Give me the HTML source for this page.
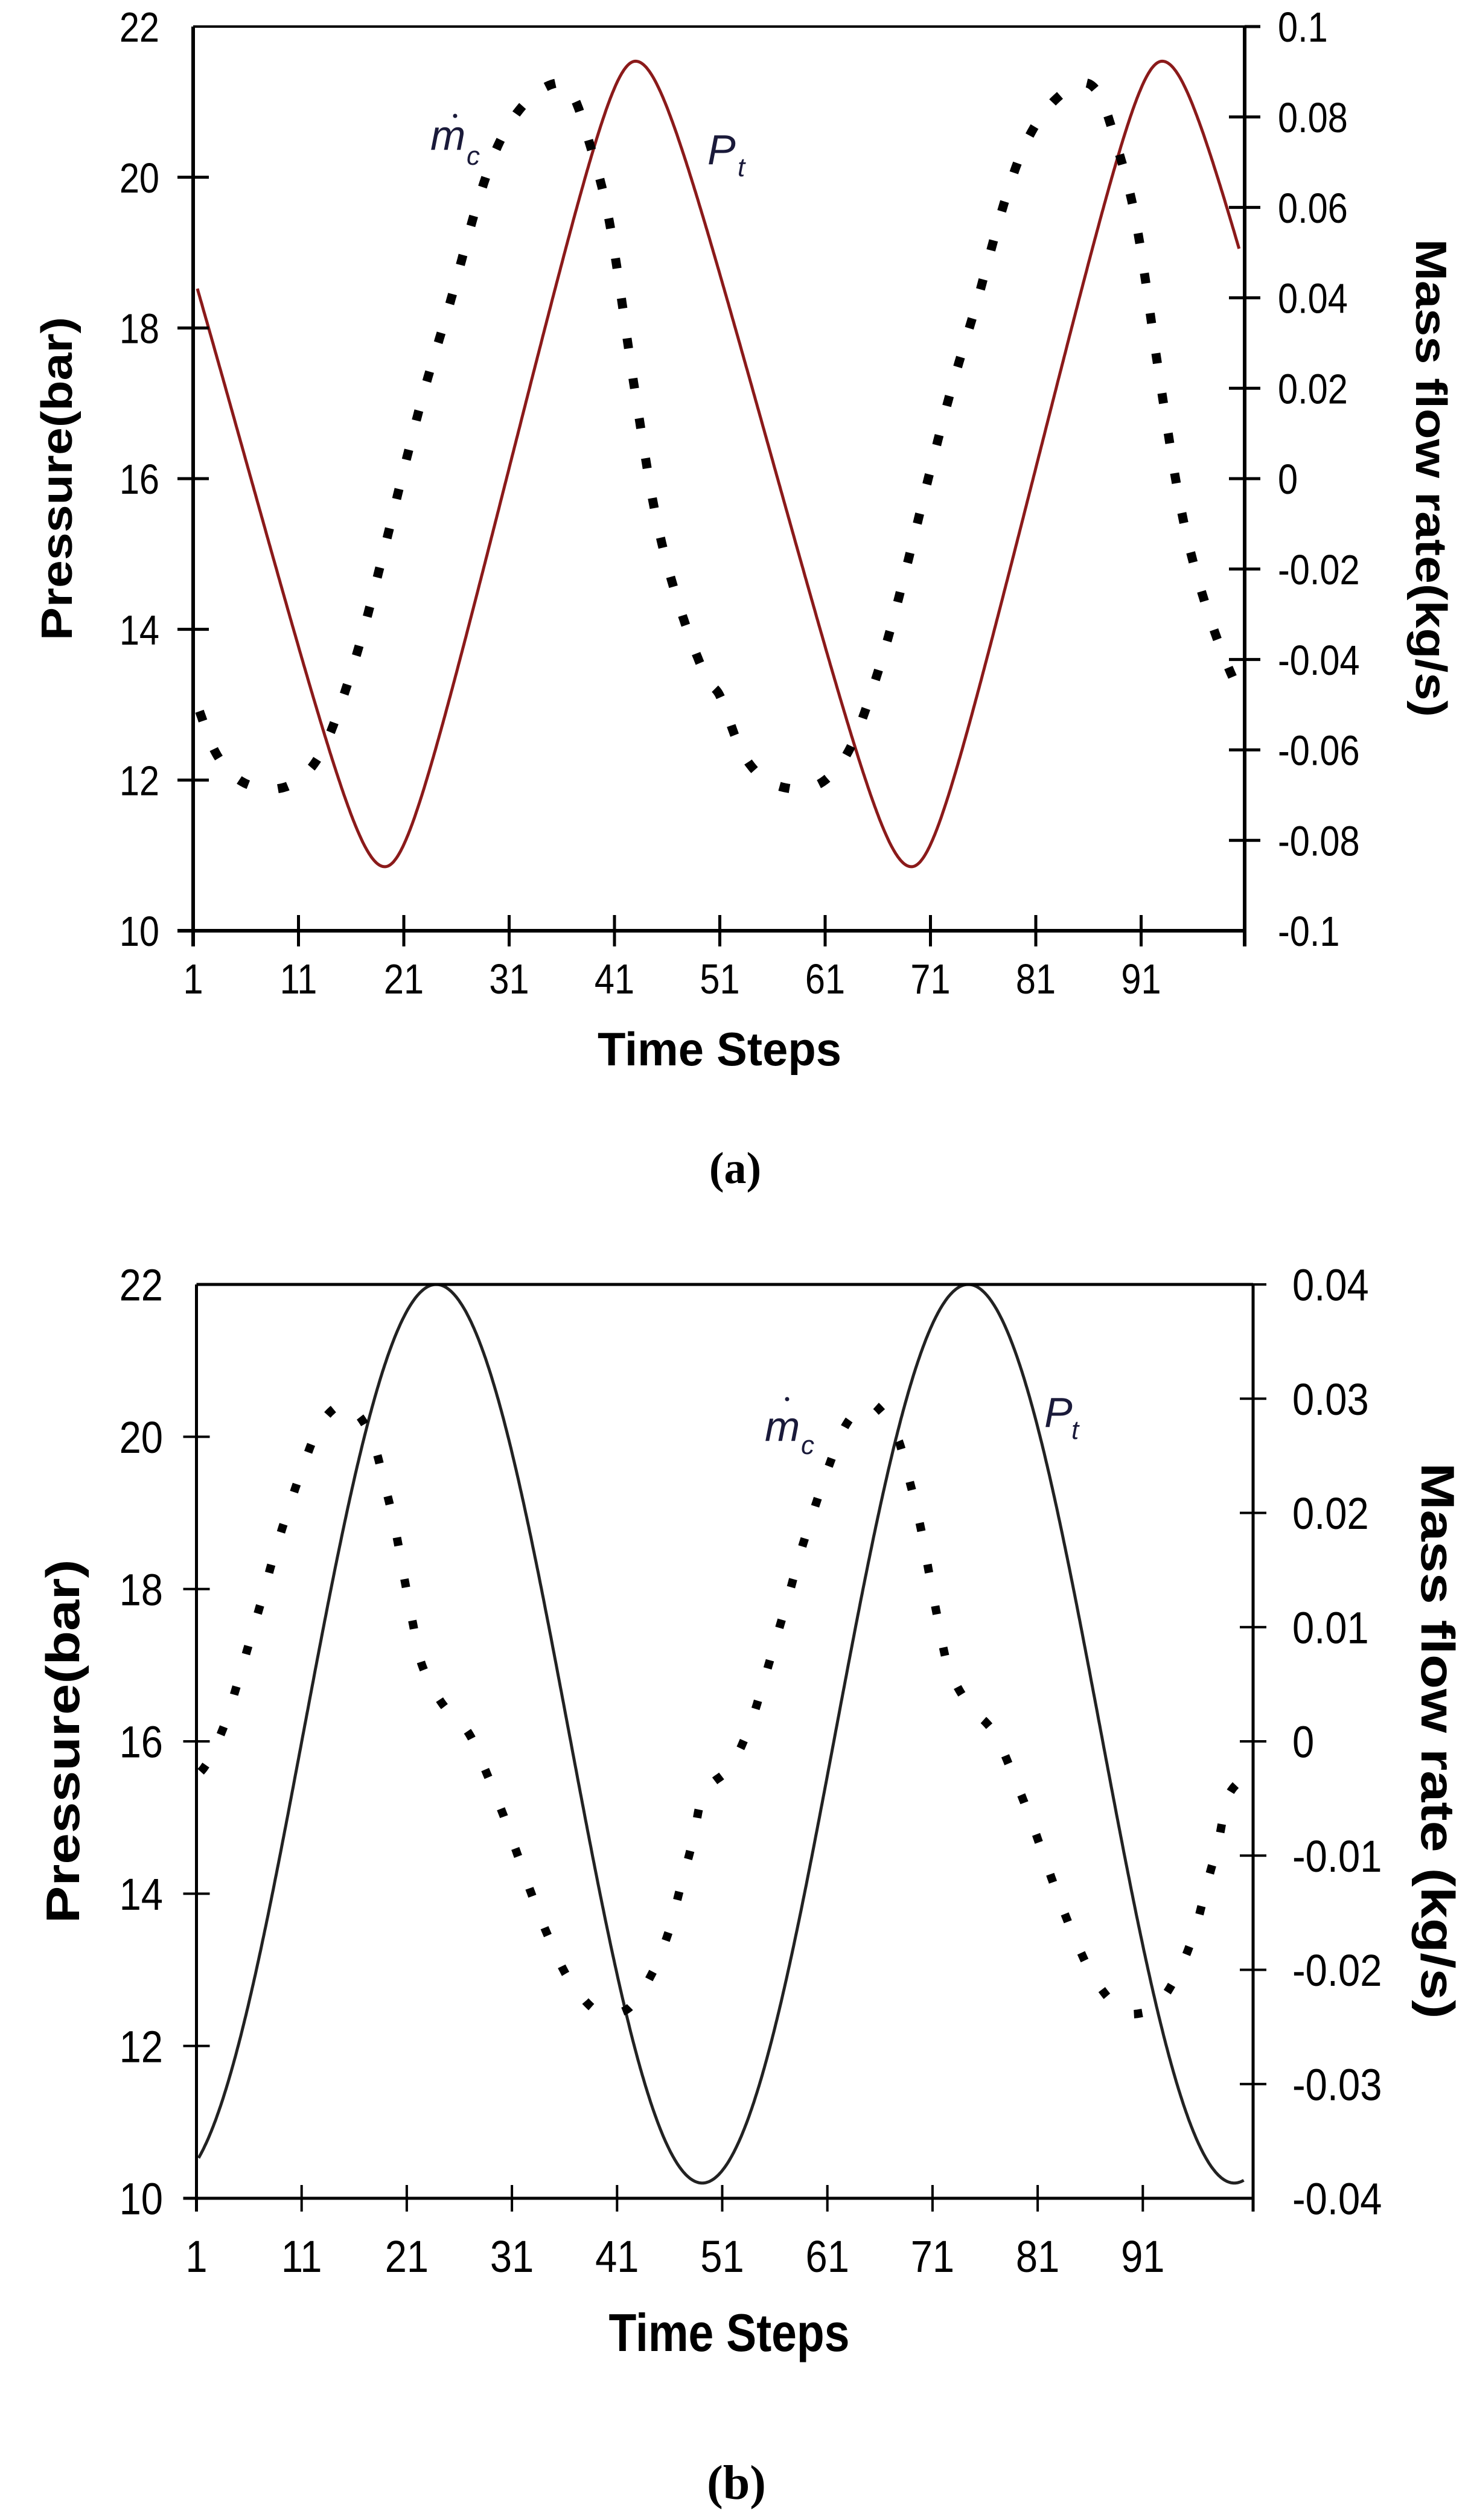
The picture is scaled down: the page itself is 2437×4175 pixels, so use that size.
<!DOCTYPE html>
<html><head><meta charset="utf-8"><style>
html,body{margin:0;padding:0;background:#fff;}
svg{display:block;}
text{font-family:"Liberation Sans",Arial,sans-serif;}
</style></head><body>
<svg id="s" width="2437" height="4175" viewBox="0 0 2437 4175" xmlns="http://www.w3.org/2000/svg">
<rect width="2437" height="4175" fill="#fff"/>
<g id="g"></g>
<text x="94" y="793" font-size="72" font-weight="bold" text-anchor="middle" transform="rotate(-90 94 793) translate(0 25)" textLength="536" lengthAdjust="spacingAndGlyphs">Pressure(bar)</text>
<text x="2371" y="792" font-size="72" font-weight="bold" text-anchor="middle" transform="rotate(90 2371 792) translate(0 25)" textLength="792" lengthAdjust="spacingAndGlyphs">Mass flow rate(kg/s)</text>
<text x="1192" y="1765" font-size="78" font-weight="bold" text-anchor="middle" textLength="404" lengthAdjust="spacingAndGlyphs">Time Steps</text>
<text x="1218" y="1960" font-size="74" font-weight="bold" text-anchor="middle" style="font-family:'Liberation Serif',serif">(a)</text>
<text x="713" y="248" font-size="70" font-style="italic" fill="#1a1a3a">m</text>
<text x="773" y="273" font-size="44" font-style="italic" fill="#1a1a3a">c</text>
<circle cx="754" cy="192" r="3.5" fill="#1a1a3a"/>
<text x="1172" y="272" font-size="70" font-style="italic" fill="#1a1a3a">P</text>
<text x="1222" y="292" font-size="44" font-style="italic" fill="#1a1a3a">t</text>
<text x="104" y="2885" font-size="78" font-weight="bold" text-anchor="middle" transform="rotate(-90 104 2885) translate(0 27)" textLength="603" lengthAdjust="spacingAndGlyphs">Pressure(bar)</text>
<text x="2382" y="2884" font-size="78" font-weight="bold" text-anchor="middle" transform="rotate(90 2382 2884) translate(0 27)" textLength="921" lengthAdjust="spacingAndGlyphs">Mass flow rate (kg/s)</text>
<text x="1208" y="3895" font-size="88" font-weight="bold" text-anchor="middle" textLength="399" lengthAdjust="spacingAndGlyphs">Time Steps</text>
<text x="1220" y="4140" font-size="80" font-weight="bold" text-anchor="middle" style="font-family:'Liberation Serif',serif">(b)</text>
<text x="1267" y="2387" font-size="70" font-style="italic" fill="#1a1a3a">m</text>
<text x="1327" y="2409" font-size="44" font-style="italic" fill="#1a1a3a">c</text>
<circle cx="1304" cy="2318" r="3.5" fill="#1a1a3a"/>
<text x="1730" y="2364" font-size="70" font-style="italic" fill="#1a1a3a">P</text>
<text x="1775" y="2384" font-size="44" font-style="italic" fill="#1a1a3a">t</text>
</svg>
<script>
(function(){
var NS="http://www.w3.org/2000/svg",G=document.getElementById("g");
function el(n,a,txt){var e=document.createElementNS(NS,n);for(var k in a)e.setAttribute(k,a[k]);if(txt!==undefined)e.textContent=txt;G.appendChild(e);return e;}
function label(x,y,s,fs,sx,anchor){var g=document.createElementNS(NS,"g");g.setAttribute("transform","translate("+x+" "+y+") scale("+sx+" 1)");var t=document.createElementNS(NS,"text");t.setAttribute("font-size",fs);t.setAttribute("text-anchor",anchor);t.textContent=s;g.appendChild(t);G.appendChild(g);}
function periodic(tab){var ext=[];for(var k=-1;k<=3;k++)tab.forEach(function(p){ext.push([p[0]+50*k,p[1]]);});ext.sort(function(a,b){return a[0]-b[0];});
 return function(t){for(var i=1;i<ext.length-2;i++){if(t>=ext[i][0]&&t<ext[i+1][0]){var p0=ext[i-1],p1=ext[i],p2=ext[i+1],p3=ext[i+2];var u=(t-p1[0])/(p2[0]-p1[0]);
 var m1=(p2[1]-p0[1])/(p2[0]-p0[0])*(p2[0]-p1[0]),m2=(p3[1]-p1[1])/(p3[0]-p1[0])*(p2[0]-p1[0]);var u2=u*u,u3=u2*u;
 return (2*u3-3*u2+1)*p1[1]+(u3-2*u2+u)*m1+(-2*u3+3*u2)*p2[1]+(u3-u2)*m2;}}return 0;};}
function path(f,t0,t1,X,Y){var d="";for(var t=t0;t<=t1+1e-9;t+=0.1){d+=(d?"L":"M")+X(t).toFixed(1)+","+Y(f(t)).toFixed(1);}return d;}

function chart(c){
 var X=function(t){return c.L+(t-1)*c.st;};
 var YP=function(p){return c.B-(p-10)*(c.B-c.T)/12;};
 var YM=function(m){return c.B-(m-c.mmin)*(c.B-c.T)/(c.mmax-c.mmin);};
 el("path",{d:path(c.P,c.p0,c.p1,X,YP),fill:"none",stroke:c.pc,"stroke-width":c.pw});
 el("path",{d:path(c.M,c.m0,c.m1,X,YM),fill:"none",stroke:"#000","stroke-width":c.mw,"stroke-dasharray":c.da});
 el("line",{x1:c.L,y1:c.T,x2:c.R,y2:c.T,stroke:"#000","stroke-width":c.tw});
 el("line",{x1:c.L,y1:c.T,x2:c.L,y2:c.B+c.tk,stroke:"#000","stroke-width":c.aw});
 el("line",{x1:c.R,y1:c.T,x2:c.R,y2:c.B+c.tk,stroke:"#000","stroke-width":c.aw});
 el("line",{x1:c.L-c.tk,y1:c.B,x2:c.R,y2:c.B,stroke:"#000","stroke-width":c.aw});
 for(var i=0;i<=6;i++){var y=c.B-i*(c.B-c.T)/6;
  if(i>0&&i<6)el("line",{x1:c.L-c.tk,y1:y,x2:c.L+c.tk,y2:y,stroke:"#000","stroke-width":c.aw-1});
  label(c.lx,y+c.fs*0.36,String(10+2*i),c.fs,c.sx,"end");}
 var n=c.rl.length;
 for(var j=0;j<n;j++){var y2=c.B-j*(c.B-c.T)/(n-1);
  if(j>0&&j<n-1)el("line",{x1:c.R-c.tk,y1:y2,x2:c.R+c.tk,y2:y2,stroke:"#000","stroke-width":c.aw-1});
  if(j==n-1)el("line",{x1:c.R,y1:y2,x2:c.R+c.tk,y2:y2,stroke:"#000","stroke-width":c.aw-1});
  label(c.rx,y2+c.fs*0.36,c.rl[j],c.fs,c.sx,"start");}
 for(var k=0;k<10;k++){var x=X(1+10*k);
  if(k>0)el("line",{x1:x,y1:c.B-c.tk,x2:x,y2:c.B+c.tk,stroke:"#000","stroke-width":c.aw-1});
  label(x,c.xy,String(1+10*k),c.fs,c.sx,"middle");}
}

var kA=0.93,asA=Math.asin(kA);
function PA(t){var u=((t-19.2)%50+50)%50,ph=u<23.8?Math.PI*u/23.8:Math.PI+Math.PI*(u-23.8)/26.2;
 var f=Math.asin(kA*Math.cos(ph))/asA;return 16.195-5.345*f;}
var MA=periodic([[1,-0.048],[3,-0.060],[5,-0.066],[7.5,-0.0685],[10,-0.068],[12,-0.0645],[13.5,-0.059],[15,-0.050],[17,-0.035],[19,-0.017],[21,0.002],[23,0.020],[25.4,0.039],[28,0.061],[30,0.074],[32.5,0.083],[35.5,0.0875],[37,0.085],[38.4,0.076],[40.5,0.057],[42.9,0.020],[44.9,-0.008],[47,-0.027],[49.7,-0.044]]);
chart({L:320,R:2062,T:44,B:1542,st:17.45,P:PA,M:MA,p0:1.4,p1:100.3,m0:1.6,m1:99.9,mmin:-0.1,mmax:0.1,
 pc:"#8b1a1a",pw:5,mw:15,da:"17 50",aw:6,tw:4,tk:26,fs:70,sx:0.85,lx:264,rx:2117,xy:1646,
 rl:["-0.1","-0.08","-0.06","-0.04","-0.02","0","0.02","0.04","0.06","0.08","0.1"]});

function PB2(t){return 16.1+5.9*Math.cos(2*Math.PI*(t-23.8)/50.6);}
var MB=periodic([[1.8,-0.0022],[3.6,0.0013],[4.9,0.0051],[6.1,0.0089],[7.3,0.0127],[8.4,0.0164],[9.7,0.0202],[11.1,0.024],[12.7,0.0276],[14.5,0.0294],[15.7,0.0293],[17.7,0.0265],[18.9,0.0225],[19.9,0.0186],[20.7,0.0146],[21.5,0.0107],[22.4,0.0068],[24.3,0.0034],[26.9,0.0007],[28.6,-0.0028],[30.2,-0.0065],[31.6,-0.0101],[33,-0.0137],[34.6,-0.0174],[36.4,-0.0208],[39,-0.0236],[40.8,-0.0238],[42.4,-0.0231],[44.5,-0.020],[46,-0.0164],[47.1,-0.0125],[48.2,-0.0087],[49.1,-0.0048]]);
chart({L:325.5,R:2076,T:2128,B:3642,st:17.42,P:PB2,M:MB,p0:1.2,p1:100.6,m0:1.4,m1:99.9,mmin:-0.04,mmax:0.04,
 pc:"#222",pw:5,mw:14,da:"14 56",aw:5,tw:5,tk:22,fs:74,sx:0.88,lx:270,rx:2141,xy:3764,
 rl:["-0.04","-0.03","-0.02","-0.01","0","0.01","0.02","0.03","0.04"]});
})();
</script>
</body></html>
